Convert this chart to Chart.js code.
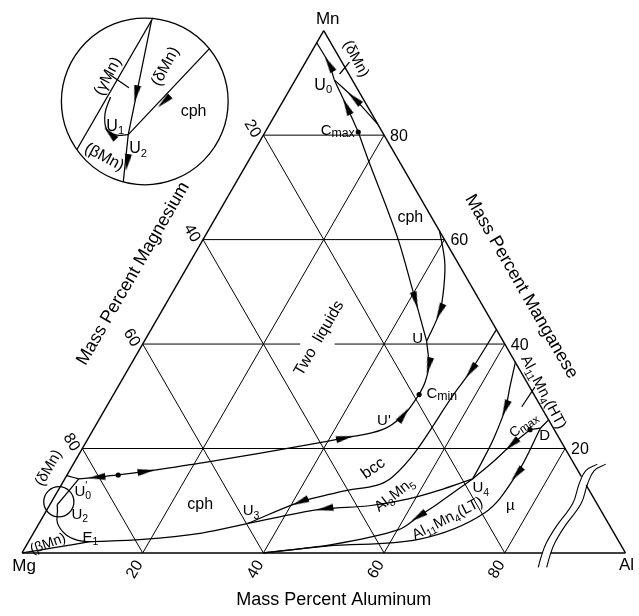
<!DOCTYPE html>
<html>
<head>
<meta charset="utf-8">
<script src="https://cdn.jsdelivr.net/npm/chart.js@4/dist/chart.umd.min.js"></script>
<style>
  html, body { margin: 0; padding: 0; background: #fff; }
  #wrap { width: 639px; height: 616px; position: relative; }
</style>
</head>
<body>
<div id="wrap"><canvas id="diagram"></canvas></div>
<script>
// Al-Mg-Mn liquidus projection. Every point is [mass % Al, mass % Mn], Mg is the balance.
const gridLevels = [20, 40, 60, 80];
const twoLiquidsGap = [26.1, 31.8];           // break in the 40 % Mn line for the label
const alBreak = { bottom: [86.2, 87.6], right: [14.6, 13.0] };

// liquidus valleys
const edgeToU0 = [[0, 97.7], [4.1, 93.6], [6.46, 90.58]];
const cmaxToU0 = [[15.42, 80.6], [11.11, 85.44], [6.46, 90.58]];
const edgeToU0b = [[17.9, 82.1], [11.59, 87.0], [6.46, 90.58]];
const cmaxToU = [[15.42, 80.6], [20.16, 74.76], [26.96, 66.61], [32.58, 59.7], [39.15, 50.9], [46.78, 40.55]];
const edgeToU = [[38.4, 61.6], [42.08, 55.93], [44.32, 51.22], [46.13, 46.2], [46.78, 40.55]];
const uToCmin = [[46.78, 40.55], [49.49, 35.84], [50.44, 32.7], [50.65, 30.32]];
const u0pToCmin = [[2.32, 14.18], [5.15, 14.5], [8.47, 14.93], [12.74, 15.63], [21.68, 17.33], [37.36, 20.77], [42.44, 22.03], [47.91, 23.6], [50.04, 26.42], [50.65, 30.32]];
const edgeToU0p = [[0, 14.82], [2.32, 14.18]];
const u0pToU2 = [[2.32, 14.18], [1.21, 9.23]];
const u2ToE1 = [[1.21, 9.23], [1.76, 8.23], [3.02, 5.71], [5.48, 3.52], [7.91, 2.45], [9.98, 2.13]];
const mgToE1 = [[0, 0], [4.83, 1.0], [9.98, 2.13]];
const e1ToU3 = [[9.98, 2.13], [18.73, 2.58], [27.89, 3.82], [34.6, 5.65]];
const bccToU3 = [[57.25, 42.75], [56.94, 34.9], [56.5, 31.45], [54.09, 14.5], [46.8, 11.68], [41.22, 9.79], [34.6, 5.65]];
const u4ToU3 = [[67.58, 14.18], [63.65, 12.24], [58.88, 10.36], [53.02, 9.04], [45.96, 8.47], [40.82, 7.34], [34.6, 5.65]];
const u4ToBase = [[67.58, 14.18], [64.22, 9.47], [62.21, 6.97], [60.2, 4.46], [50.73, 1.64], [40, 0]];
const dToBase = [[73.97, 23.92], [74.45, 15.12], [72.77, 7.59], [64.4, 2.58], [49.81, 1.32], [40, 0]];
const cmaxToD = [[72.38, 23.6], [73.97, 23.92]];
const cmaxToU4 = [[72.38, 23.6], [70.8, 20.77], [69.27, 17.33], [67.58, 14.18]];
const dToEdge = [[73.97, 23.92], [74.52, 25.48]];
const edgeToU4 = [[63.52, 36.48], [64.87, 32.07], [66.26, 27.68], [67.19, 22.03], [67.52, 17.01], [67.58, 14.18]];
const solubilityTicks = [
  [[6.78, 91.71], [7.28, 93.97]],
  [[68.82, 28.0], [69.1, 31.77]]
];
const breakWave = [[86.93, -2.77], [86.36, -0.56], [85.93, 1.94], [85.99, 5.08], [86.52, 9.47], [85.71, 13.24], [85.55, 15.76], [86.83, 17.01]];
const breakShift = 1.4;

const extrema = [[15.42, 80.6], [50.65, 30.32], [8.47, 14.93], [72.38, 23.6]];

// arrowheads: [Al, Mn] at, then [Al, Mn] it points toward
const arrows = [
  [4.1, 93.6, 0, 97.7], [11.11, 85.44, 6.46, 90.58], [11.59, 87.0, 6.46, 90.58],
  [41.0, 48.4, 46.78, 40.55], [49.49, 35.84, 50.44, 32.7], [46.13, 46.2, 46.78, 40.55],
  [5.15, 14.5, 2.32, 14.18], [12.74, 15.63, 21.68, 17.33], [42.44, 22.03, 47.91, 23.6],
  [50.04, 26.42, 50.65, 30.32], [56.94, 34.9, 56.5, 31.45], [41.22, 9.79, 34.6, 5.65],
  [45.96, 8.47, 40.82, 7.34], [62.21, 6.97, 60.2, 4.46], [74.45, 15.12, 72.77, 7.59],
  [70.8, 20.77, 69.27, 17.33], [66.26, 27.68, 67.19, 22.03]
];

// enlarged Mg-corner detail (same composition units, drawn through the lens)
const lensAt = [1.2, 9.8];
const insetEdge = [[0, 6.5], [0, 13.5]];
const insetTopToU2 = [[0, 12.61], [1.28, 8.65]];
const insetCphToU2 = [[2.5, 12.5], [1.28, 8.65]];
const insetU2Down = [[1.28, 8.65], [2.2, 6.4]];
const insetU1 = [[0.1, 9.95], [0.22, 9.38], [0.55, 8.82], [0.9, 8.64], [1.28, 8.65]];
const insetGammaTick = [[-0.33, 10.74], [0.49, 10.27]];
const insetArrows = [
  [0.81, 10.06, 1.28, 8.65], [1.78, 9.79, 1.28, 8.65],
  [1.73, 7.69, 2.2, 6.4], [0.71, 8.7, 0.55, 8.82]
];

const labels = [
  { t: '(δMn)', at: [8.14, 94.73], size: 15, rot: 62 },
  { t: 'U_0', at: [5.0, 89.83], size: 16 },
  { t: 'C~{max}', at: [11.83, 80.98], size: 15 },
  { t: 'cph', at: [32.14, 64.41], size: 16 },
  { t: 'U', at: [44.99, 41.19], size: 15 },
  { t: 'Two  liquids', at: [28.43, 41.24], size: 16, rot: -60 },
  { t: 'C~{min}', at: [54.2, 30.7], size: 15 },
  { t: "U'", at: [47.24, 25.48], size: 15 },
  { t: 'bcc', at: [49.89, 16.38], size: 16, rot: -35 },
  { t: 'Al_8Mn_5', at: [55.97, 11.3], size: 15, rot: -38 },
  { t: 'U_3', at: [33.84, 8.23], size: 15 },
  { t: 'cph', at: [24.79, 9.47], size: 16 },
  { t: 'E_1', at: [9.72, 3.2], size: 15 },
  { t: '(βMn)', at: [3.27, 1.94], size: 14, rot: -20 },
  { t: '(δMn)', at: [-3.95, 16.38], size: 15, rot: -60 },
  { t: "U^'_0", at: [4.07, 12.0], size: 15 },
  { t: 'U_2', at: [5.78, 7.59], size: 15 },
  { t: 'U_4', at: [69.71, 12.62], size: 15 },
  { t: 'C~{max}', at: [70.83, 24.54], size: 14, rot: -35 },
  { t: 'D', at: [75.29, 22.66], size: 15 },
  { t: 'µ', at: [76.32, 9.17], size: 15 },
  { t: 'Al_{11}Mn_4(HT)', at: [71.13, 30.89], size: 15, rot: 62 },
  { t: 'Al_{11}Mn_4(LT)', at: [67.03, 6.78], size: 15, rot: -27 },
  { t: '(γMn)', at: [-0.38, 10.69], size: 16, rot: -62, inset: true },
  { t: '(δMn)', at: [1.17, 11.03], size: 16, rot: -62, inset: true },
  { t: 'cph', at: [2.81, 9.5], size: 16, inset: true },
  { t: 'U_1', at: [0.72, 8.99], size: 16, inset: true },
  { t: 'U_2', at: [1.8, 8.2], size: 16, inset: true },
  { t: '(βMn)', at: [0.95, 7.91], size: 16, rot: 28, inset: true }
];

// ---- layout (pixels) ----
const PX = 6.13;                    // pixels per composition unit
const ORIGIN = { x: 17.3, y: 557 }; // Mg corner
const W = 639, H = 616;
const INSET = { x: (142 - ORIGIN.x) / PX, y: (ORIGIN.y - 98) / PX, r: 84.7 / PX };
const LENS_R = 15.3 / PX;
const ZOOM = INSET.r / LENS_R;
const FONT = '"Liberation Sans", Arial, Helvetica, sans-serif';

const SQ = Math.sqrt(3) / 2;
const tern = ([al, mn]) => ({ x: al + mn / 2, y: mn * SQ });
const lensC = tern(lensAt);
const magnify = (p) => {
  const t = tern(p);
  return { x: INSET.x + ZOOM * (t.x - lensC.x), y: INSET.y + ZOOM * (t.y - lensC.y) };
};

// slender arrowhead used as a point style
const arrowImg = document.createElement('canvas');
arrowImg.width = 17; arrowImg.height = 8;
(function () {
  const c = arrowImg.getContext('2d');
  c.fillStyle = '#000';
  c.beginPath(); c.moveTo(17, 4); c.lineTo(0, 0.5); c.lineTo(0, 7.5); c.closePath(); c.fill();
})();

const datasets = [];
function addLine(pts, opts) {
  const map = opts && opts.inset ? magnify : tern;
  datasets.push(Object.assign({
    data: pts.map(map), showLine: true, pointRadius: 0, borderColor: '#000',
    borderWidth: 1.25, tension: 0.35, fill: false
  }, opts || {}));
}
function addArrows(list, inset) {
  const map = inset ? magnify : tern;
  const at = list.map(a => map([a[0], a[1]]));
  const rot = list.map((a, i) => {
    const to = map([a[2], a[3]]);
    return Math.atan2(-(to.y - at[i].y), to.x - at[i].x) * 180 / Math.PI;
  });
  datasets.push({ data: at, showLine: false, pointStyle: arrowImg, pointRadius: 4, pointRotation: rot, inset });
}

// triangle frame with the break near the Al corner
const frame = { borderWidth: 1.4, tension: 0 };
addLine([[0, 0], [alBreak.bottom[0], 0]], frame);
addLine([[alBreak.bottom[1], 0], [100, 0]], frame);
addLine([[0, 0], [0, 100]], frame);
addLine([[0, 100], [100 - alBreak.right[0], alBreak.right[0]]], frame);
addLine([[100 - alBreak.right[1], alBreak.right[1]], [100, 0]], frame);
addLine(breakWave, { borderWidth: 1.1, tension: 0.4 });
addLine(breakWave.map(([a, m]) => [a + breakShift, m]), { borderWidth: 1.1, tension: 0.4 });

// 20 % grid
const grid = { borderWidth: 1, tension: 0 };
gridLevels.forEach(c => {
  if (c === 40) {
    addLine([[0, c], [twoLiquidsGap[0], c]], grid);
    addLine([[twoLiquidsGap[1], c], [100 - c, c]], grid);
  } else {
    addLine([[0, c], [100 - c, c]], grid);
  }
  addLine([[c, 0], [c, 100 - c]], grid);
  addLine([[100 - c, 0], [0, 100 - c]], grid);
});

[edgeToU0, cmaxToU0, edgeToU0b, cmaxToU, edgeToU, uToCmin, u0pToCmin, edgeToU0p, u0pToU2,
 u2ToE1, mgToE1, e1ToU3, bccToU3, u4ToU3, u4ToBase, dToBase, cmaxToD, cmaxToU4, dToEdge,
 edgeToU4].forEach(c => addLine(c));
solubilityTicks.forEach(t => addLine(t, { tension: 0 }));
addArrows(arrows, false);
datasets.push({ data: extrema.map(tern), showLine: false, pointRadius: 2.6, pointBackgroundColor: '#000', pointBorderWidth: 0 });

[insetEdge, insetTopToU2, insetCphToU2, insetU2Down, insetGammaTick].forEach(c => addLine(c, { inset: true, tension: 0 }));
addLine(insetU1, { inset: true, tension: 0.4 });
addArrows(insetArrows, true);

// ---- text with subscripts (_), superscripts (^) and small lowered runs (~) ----
function parseRich(s) {
  const kinds = { '_': 'sub', '^': 'sup', '~': 'low' };
  const segs = []; let buf = '', i = 0;
  while (i < s.length) {
    const ch = s[i];
    if (kinds[ch]) {
      if (buf) { segs.push({ t: buf, k: 'n' }); buf = ''; }
      let t;
      if (s[i + 1] === '{') { const j = s.indexOf('}', i); t = s.slice(i + 2, j); i = j + 1; }
      else { t = s[i + 1]; i += 2; }
      segs.push({ t, k: kinds[ch] });
    } else { buf += ch; i++; }
  }
  if (buf) segs.push({ t: buf, k: 'n' });
  return segs;
}
function drawRich(ctx, str, x, y, size, rot, align) {
  const segs = parseRich(str);
  const placed = []; let cur = 0, held = 0;
  segs.forEach((sg, i) => {
    const sz = sg.k === 'n' ? size : sg.k === 'low' ? size * 0.82 : size * 0.7;
    ctx.font = sz + 'px ' + FONT;
    const w = ctx.measureText(sg.t).width;
    const dy = sg.k === 'sub' ? size * 0.24 : sg.k === 'sup' ? -size * 0.42 : sg.k === 'low' ? size * 0.1 : 0;
    placed.push({ t: sg.t, sz, x: cur, dy });
    const next = segs[i + 1];
    if (sg.k === 'sup' && next && next.k === 'sub') held = w;
    else { cur += Math.max(w, held); held = 0; }
  });
  const ox = align === 'left' ? 0 : align === 'right' ? -cur : -cur / 2;
  ctx.save();
  ctx.translate(x, y);
  ctx.rotate((rot || 0) * Math.PI / 180);
  ctx.fillStyle = '#000';
  ctx.textBaseline = 'alphabetic';
  placed.forEach(p => {
    ctx.font = p.sz + 'px ' + FONT;
    ctx.fillText(p.t, ox + p.x, size * 0.36 + p.dy);
  });
  ctx.restore();
}

const toPx = (chart, p) => ({ x: chart.scales.x.getPixelForValue(p.x), y: chart.scales.y.getPixelForValue(p.y) });
const unitPx = (chart) => chart.scales.x.getPixelForValue(1) - chart.scales.x.getPixelForValue(0);

const insetClip = {
  id: 'insetClip',
  beforeDatasetDraw(chart, args) {
    if (!chart.data.datasets[args.index].inset) return;
    const c = toPx(chart, INSET);
    const ctx = chart.ctx;
    ctx.save();
    ctx.beginPath(); ctx.arc(c.x, c.y, INSET.r * unitPx(chart), 0, Math.PI * 2); ctx.clip();
  },
  afterDatasetDraw(chart, args) {
    if (chart.data.datasets[args.index].inset) chart.ctx.restore();
  }
};

const annotations = {
  id: 'annotations',
  afterDatasetsDraw(chart) {
    const ctx = chart.ctx;
    const u = unitPx(chart);
    // lens at the Mg corner and the enlarged view
    ctx.save();
    ctx.strokeStyle = '#000'; ctx.lineWidth = 1.3;
    const lc = toPx(chart, lensC);
    ctx.beginPath(); ctx.arc(lc.x, lc.y, LENS_R * u, 0, Math.PI * 2); ctx.stroke();
    const ic = toPx(chart, INSET);
    ctx.beginPath(); ctx.arc(ic.x, ic.y, INSET.r * u, 0, Math.PI * 2); ctx.stroke();
    ctx.restore();

    labels.forEach(l => {
      const p = toPx(chart, l.inset ? magnify(l.at) : tern(l.at));
      drawRich(ctx, l.t, p.x, p.y, l.size, l.rot, l.align);
    });

    // tick labels along the three edges
    gridLevels.forEach(c => {
      let p = toPx(chart, tern([c, 0]));
      drawRich(ctx, String(c), p.x - 9, p.y + 16, 16, -60);
      p = toPx(chart, tern([100 - c, c]));
      drawRich(ctx, String(c), p.x + 6, p.y, 16, 0, 'left');
      p = toPx(chart, tern([0, 100 - c]));
      drawRich(ctx, String(c), p.x - 10, p.y - 7, 16, 60);
    });

    // corners
    let p = toPx(chart, tern([0, 100]));
    drawRich(ctx, 'Mn', p.x + 4, p.y - 13, 17);
    p = toPx(chart, tern([0, 0]));
    drawRich(ctx, 'Mg', p.x + 2, p.y + 12, 17);
    p = toPx(chart, tern([100, 0]));
    drawRich(ctx, 'Al', p.x + 1, p.y + 11, 17);

    // axis titles
    p = toPx(chart, tern([50, 0]));
    drawRich(ctx, 'Mass Percent Aluminum', p.x + 10, p.y + 46, 18);
    p = toPx(chart, tern([0, 50]));
    drawRich(ctx, 'Mass Percent Magnesium', p.x - 41, p.y - 19, 18, -60);
    p = toPx(chart, tern([50, 50]));
    drawRich(ctx, 'Mass Percent Manganese', p.x + 48, p.y - 6, 18, 60);
  }
};

new Chart(document.getElementById('diagram'), {
  type: 'scatter',
  data: { datasets },
  options: {
    responsive: true,
    maintainAspectRatio: false,
    animation: false,
    events: [],
    layout: { padding: 0 },
    plugins: { legend: { display: false }, tooltip: { enabled: false } },
    scales: {
      x: { type: 'linear', display: false, min: -ORIGIN.x / PX, max: (W - ORIGIN.x) / PX },
      y: { type: 'linear', display: false, min: -(H - ORIGIN.y) / PX, max: ORIGIN.y / PX }
    }
  },
  plugins: [insetClip, annotations]
});
</script>
</body>
</html>
